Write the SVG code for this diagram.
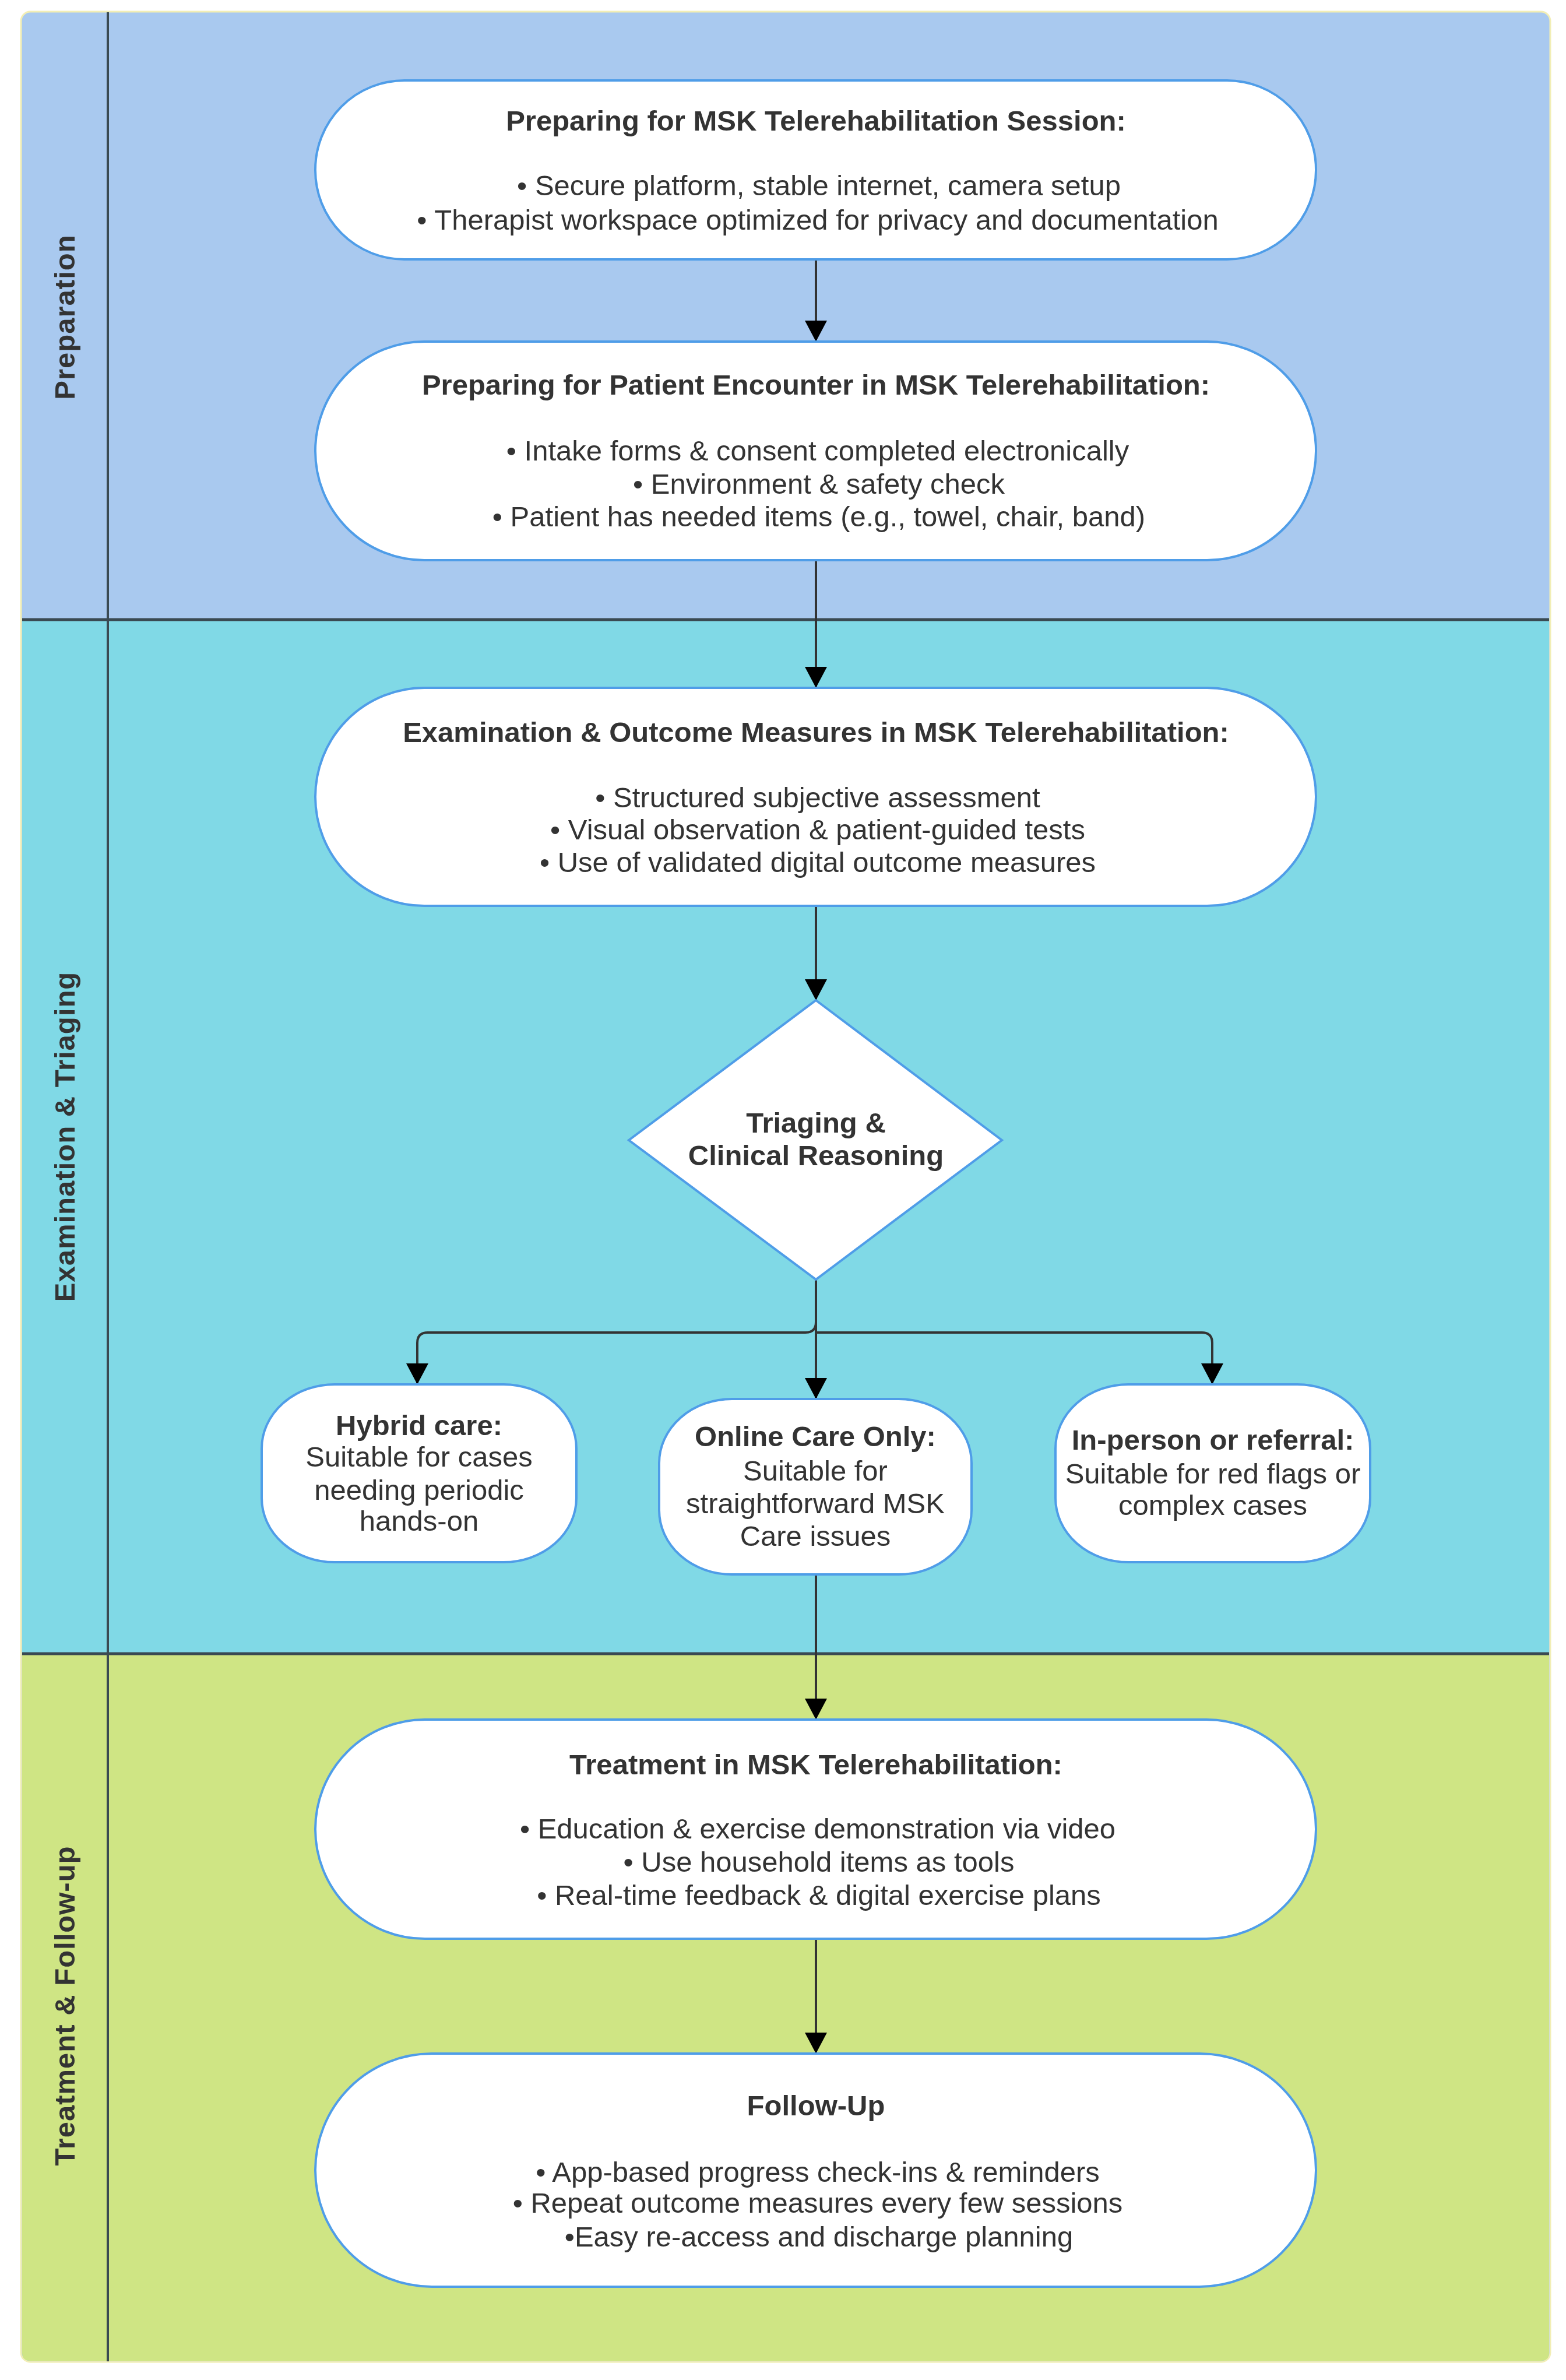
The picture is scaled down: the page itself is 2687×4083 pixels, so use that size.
<svg xmlns="http://www.w3.org/2000/svg" width="2687" height="4083" viewBox="0 0 2687 4083">
<style>
.node{fill:#ffffff;stroke:#4f9de8;stroke-width:4}
.t{font-family:"Liberation Sans",Arial,sans-serif;font-size:49px;fill:#333333;text-anchor:middle}
.b{font-weight:bold}
.lane{font-family:"Liberation Sans",Arial,sans-serif;font-size:49px;font-weight:bold;fill:#333333;text-anchor:middle;letter-spacing:1px}
.conn{fill:none;stroke:#333333;stroke-width:4}
.sep{stroke:#3a4a52;stroke-width:5}
</style>
<defs>
<marker id="arr" markerUnits="userSpaceOnUse" markerWidth="36" markerHeight="38" viewBox="0 0 36 38" refX="36" refY="19" orient="auto">
<path d="M0,0 L36,19 L0,38 z" fill="#000000"/>
</marker>
</defs>
<rect x="0" y="0" width="2687" height="4083" fill="#ffffff"/>
<g id="lanes">
<rect x="36" y="20" width="2624" height="4032" rx="16" fill="#a9c9ef" stroke="#f2eeb5" stroke-width="3"/>
<rect x="38" y="1063" width="2620" height="1774" fill="#80d9e6"/>
<path d="M38,2837 H2658 V4036 Q2658,4050 2644,4050 H52 Q38,4050 38,4036 Z" fill="#cfe584"/>
<line class="sep" x1="38" y1="1063" x2="2658" y2="1063"/>
<line class="sep" x1="38" y1="2837" x2="2658" y2="2837"/>
<line x1="185" y1="21" x2="185" y2="4051" stroke="#3a4a52" stroke-width="4"/>
<text class="lane" transform="translate(128,544) rotate(-90)">Preparation</text>
<text class="lane" transform="translate(128,1950) rotate(-90)">Examination &amp; Triaging</text>
<text class="lane" transform="translate(128,3441) rotate(-90)">Treatment &amp; Follow-up</text>
</g>
<g id="connectors">
<path class="conn" d="M1400,445 L1400,586" marker-end="url(#arr)"/>
<path class="conn" d="M1400,961 L1400,1180" marker-end="url(#arr)"/>
<path class="conn" d="M1400,1554 L1400,1716" marker-end="url(#arr)"/>
<path class="conn" d="M1400,2195 L1400,2400" marker-end="url(#arr)"/>
<path class="conn" stroke-width="5" d="M1400,2195 L1400,2268 Q1400,2286 1382,2286 L734,2286 Q716,2286 716,2304 L716,2375" marker-end="url(#arr)"/>
<path class="conn" stroke-width="5" d="M1400,2286 L2062,2286 Q2080,2286 2080,2304 L2080,2375" marker-end="url(#arr)"/>
<path class="conn" d="M1400,2701 L1400,2950" marker-end="url(#arr)"/>
<path class="conn" d="M1400,3326 L1400,3523" marker-end="url(#arr)"/>
</g>
<g id="node-session">
<rect class="node" x="541" y="138" width="1717" height="307" rx="153" ry="153"/>
<text class="t b" x="1400" y="224">Preparing for MSK Telerehabilitation Session:</text>
<text class="t" x="1405" y="335">• Secure platform, stable internet, camera setup</text>
<text class="t" x="1403" y="394">• Therapist workspace optimized for privacy and documentation</text>
</g>
<g id="node-encounter">
<rect class="node" x="541" y="586" width="1717" height="375" rx="187" ry="187"/>
<text class="t b" x="1400" y="677">Preparing for Patient Encounter in MSK Telerehabilitation:</text>
<text class="t" x="1403" y="790">• Intake forms &amp; consent completed electronically</text>
<text class="t" x="1405" y="847">• Environment &amp; safety check</text>
<text class="t" x="1405" y="903">• Patient has needed items (e.g., towel, chair, band)</text>
</g>
<g id="node-exam">
<rect class="node" x="541" y="1180" width="1717" height="374" rx="187" ry="187"/>
<text class="t b" x="1400" y="1273">Examination &amp; Outcome Measures in MSK Telerehabilitation:</text>
<text class="t" x="1403" y="1385">•  Structured subjective assessment</text>
<text class="t" x="1403" y="1440">• Visual observation &amp; patient-guided tests</text>
<text class="t" x="1403" y="1496">• Use of validated digital outcome measures</text>
</g>
<g id="node-triage">
<polygon class="node" points="1400,1716 1719,1956 1400,2195 1079,1956"/>
<text class="t b" x="1400" y="1943">Triaging &amp;</text>
<text class="t b" x="1400" y="1999">Clinical Reasoning</text>
</g>
<g id="node-hybrid">
<rect class="node" x="449" y="2375" width="540" height="305" rx="125" ry="110"/>
<text class="t b" x="719" y="2462">Hybrid care:</text>
<text class="t" x="719" y="2516">Suitable for cases</text>
<text class="t" x="719" y="2573">needing periodic</text>
<text class="t" x="719" y="2626">hands-on</text>
</g>
<g id="node-online">
<rect class="node" x="1131" y="2400" width="536" height="301" rx="125" ry="110"/>
<text class="t b" x="1399" y="2481">Online Care Only:</text>
<text class="t" x="1399" y="2540">Suitable for</text>
<text class="t" x="1399" y="2596">straightforward MSK</text>
<text class="t" x="1399" y="2652">Care issues</text>
</g>
<g id="node-inperson">
<rect class="node" x="1811" y="2375" width="540" height="305" rx="125" ry="110"/>
<text class="t b" x="2081" y="2487">In-person or referral:</text>
<text class="t" x="2081" y="2545">Suitable for red flags or</text>
<text class="t" x="2081" y="2599">complex cases</text>
</g>
<g id="node-treatment">
<rect class="node" x="541" y="2950" width="1717" height="376" rx="188" ry="188"/>
<text class="t b" x="1400" y="3044">Treatment in MSK Telerehabilitation:</text>
<text class="t" x="1403" y="3154">• Education &amp; exercise demonstration via video</text>
<text class="t" x="1405" y="3211">• Use household items as tools</text>
<text class="t" x="1405" y="3268">• Real-time feedback &amp; digital exercise plans</text>
</g>
<g id="node-followup">
<rect class="node" x="541" y="3523" width="1717" height="400" rx="200" ry="200"/>
<text class="t b" x="1400" y="3629">Follow-Up</text>
<text class="t" x="1403" y="3743">• App-based progress check-ins &amp; reminders</text>
<text class="t" x="1403" y="3796">• Repeat outcome measures every few sessions</text>
<text class="t" x="1405" y="3854">•Easy re-access and discharge planning</text>
</g>
</svg>
